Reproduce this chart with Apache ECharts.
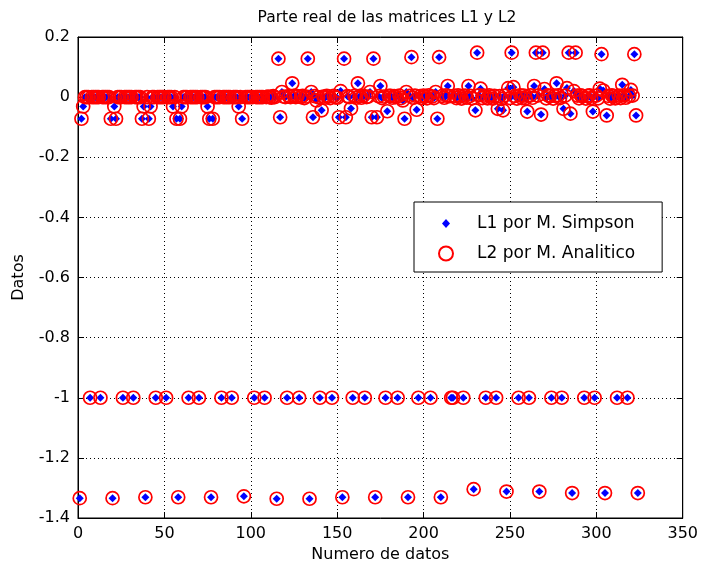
<!DOCTYPE html>
<html>
<head>
<meta charset="utf-8">
<script src="https://cdn.jsdelivr.net/npm/echarts@6/dist/echarts.min.js"></script>
<style>
html,body{margin:0;padding:0;background:#fff;}
#chart{width:701px;height:569px;}
</style>
</head>
<body>
<div id="chart"></div>
<script>
// Real part of the 18x18 matrices, column by column
const col1  = [-1.334,-0.072,-0.031,0,0,0,-1,0,0,0,0,0,-1,0,0,0,0,0];
const col2  = [-0.072,-1.334,-0.031,-0.072,0,0,0,-1,0,0,0,0,0,-1,0,0,0,0];
const col3  = [-0.072,-0.031,-1.331,0,-0.072,-0.031,0,0,-1,0,0,0,0,0,-1,0,0,0];
const col4  = [-0.031,0,-0.072,-1.331,-0.072,-0.031,0,0,0,-1,0,0,0,0,0,-1,0,0];
const col5  = [0,0,-0.031,-0.072,-1.331,-0.072,0,0,0,0,-1,0,0,0,0,0,-1,0];
const col6  = [0,0,-0.031,0,-0.072,-1.328,0,0,0,0,0,-1,0,0,0,0,0,-1];
const col7  = [0,0.002,0,-0.002,0.003,0,-1.336,0.128,-0.067,0.017,0.002,0,-1,0.003,0,0.046,0.004,0];
const col8  = [0.003,-1,0,0.004,-0.003,0.002,0.128,-1.336,0.017,-0.067,0.003,-0.011,0,-1,-0.044,0.002,-0.002,0.004];
const col9  = [0.002,-0.003,-1,0.004,0,-0.002,-0.067,0.02,-1.331,0.128,-0.067,0.003,0,-0.038,-1,0.004,-0.002,0.046];
const col10 = [0.003,-0.002,0.004,-1,0,0.002,0.017,-0.067,0.128,-1.331,-0.067,0.003,0.037,-0.003,0.002,-1,-0.047,0.004];
const col11 = [0.004,-0.002,0.003,0,-1,0.005,-0.003,-0.011,-0.072,0.017,-1.331,0.004,0.133,-0.002,0.005,-0.042,-1,0.003];
const col12 = [-0.003,0.005,0.002,-0.004,0.006,-1,0.002,-0.003,0.017,-0.072,0.133,-1.331,0.004,-0.002,0.006,0.037,0.003,-1];
const col13 = [-1,0.004,-0.003,0.006,0.002,-0.005,-1,0.005,-0.002,0.037,0.004,-0.004,-1.304,-0.044,0.148,0.006,0.028,-0.003];
const col14 = [0.005,-1,-0.004,0.006,0.002,-0.005,0.004,-1,-0.039,0.003,-0.006,-0.044,0.005,-1.312,0.03,-0.003,0.148,0.033];
const col15 = [0.004,-0.005,-1,0.006,-0.003,0.005,-0.004,-0.048,-1,0.006,-0.002,0.037,0.148,0.005,-1.312,-0.058,0.148,0.027];
const col16 = [-0.004,0.006,0.003,-1,-0.005,0.004,0.046,0.006,-0.003,-1,-0.039,0.005,0.03,0.148,-0.055,-1.317,0.02,0.148];
const col17 = [0.005,-0.004,0.006,0.003,-1,-0.005,0.004,0.006,-0.003,-0.048,-1,0.005,-0.004,0.028,0.143,0.022,-1.317,-0.061];
const col18 = [0.004,-0.005,0.006,0.003,-0.004,-1,0.005,-0.003,0.041,0.006,-0.002,-1,0.004,0.024,0.005,0.143,-0.061,-1.317];

const l1Values = [].concat(col1,col2,col3,col4,col5,col6,col7,col8,col9,col10,col11,col12,col13,col14,col15,col16,col17,col18);
const l2Values = [].concat(col1,col2,col3,col4,col5,col6,col7,col8,col9,col10,col11,col12,col13,col14,col15,col16,col17,col18);

const seriesNames = ['L1 por M. Simpson', 'L2 por M. Analitico'];
const xTicks = [0, 50, 100, 150, 200, 250, 300, 350];
const yTicks = [-1.4, -1.2, -1, -0.8, -0.6, -0.4, -0.2, 0, 0.2];
const titleText = 'Parte real de las matrices L1 y L2';
const xName = 'Numero de datos';
const yName = 'Datos';

const FONT = '"DejaVu Sans", "Liberation Sans", Arial, sans-serif';
const FS = 16;
const l1Data = l1Values.map((v, i) => [i + 1, v]);
const l2Data = l2Values.map((v, i) => [i + 1, v]);

const chart = echarts.init(document.getElementById('chart'), null, {renderer: 'canvas'});
const fmtY = v => String(+v.toFixed(1));
const baseX = {
  type: 'value', min: xTicks[0], max: xTicks[xTicks.length - 1], interval: 50
};
const baseY = {
  type: 'value', min: yTicks[0], max: yTicks[yTicks.length - 1], interval: 0.2
};
const tick = {show: true, inside: true, length: 6, lineStyle: {color: '#000', width: 1}};
const dotted = {show: true, lineStyle: {color: '#000', type: [1, 3], width: 1}};
chart.setOption({
  animation: false,
  backgroundColor: '#fff',
  title: {
    text: titleText, left: 382, textAlign: 'center', top: 5,
    textStyle: {fontFamily: FONT, fontSize: 15.5, fontWeight: 'normal', color: '#000'}
  },
  grid: {left: 78, right: 15, top: 37, bottom: 51, show: true, borderColor: '#000', borderWidth: 1, backgroundColor: '#fff'},
  legend: {
    orient: 'vertical', left: 414, top: 202,
    padding: [13, 27, 10, 24], itemWidth: 14, itemHeight: 14, itemGap: 13,
    backgroundColor: '#fff', borderColor: '#000', borderWidth: 1,
    textStyle: {fontFamily: FONT, fontSize: 17, color: '#000', padding: [0, 0, 0, 19]},
    data: [
      {name: seriesNames[0], icon: 'path://M0,0M14,14M7,2.5L11,7L7,11.5L3,7Z'},
      {name: seriesNames[1]}
    ]
  },
  xAxis: [
    Object.assign({}, baseX, {
      position: 'bottom',
      name: xName, nameLocation: 'middle', nameGap: 28,
      nameTextStyle: {fontFamily: FONT, fontSize: FS, color: '#000'},
      axisLine: {show: true, onZero: false, lineStyle: {color: '#000', width: 1}},
      axisTick: tick,
      axisLabel: {fontFamily: FONT, fontSize: FS, color: '#000', margin: 8},
      splitLine: dotted
    }),
    Object.assign({}, baseX, {
      position: 'top',
      axisLine: {show: true, onZero: false, lineStyle: {color: '#000'}},
      axisTick: tick,
      axisLabel: {show: false}, splitLine: {show: false}
    })
  ],
  yAxis: [
    Object.assign({}, baseY, {
      position: 'left',
      name: yName, nameLocation: 'middle', nameGap: 51, nameRotate: 90,
      nameTextStyle: {fontFamily: FONT, fontSize: FS, color: '#000'},
      axisLine: {show: true, onZero: false, lineStyle: {color: '#000', width: 1}},
      axisTick: tick,
      axisLabel: {fontFamily: FONT, fontSize: FS, color: '#000', margin: 8, formatter: fmtY},
      splitLine: dotted
    }),
    Object.assign({}, baseY, {
      position: 'right',
      axisLine: {show: true, onZero: false, lineStyle: {color: '#000'}},
      axisTick: tick,
      axisLabel: {show: false}, splitLine: {show: false}
    })
  ],
  series: [
    {
      name: seriesNames[0], type: 'scatter', xAxisIndex: 0, yAxisIndex: 0,
      symbol: 'diamond', symbolSize: 8, z: 2,
      itemStyle: {color: '#0000ff', opacity: 1},
      data: l1Data
    },
    {
      name: seriesNames[1], type: 'scatter', xAxisIndex: 0, yAxisIndex: 0,
      symbol: 'circle', symbolSize: 13, z: 3,
      itemStyle: {color: 'rgba(255,255,255,0)', borderColor: '#ff0000', borderWidth: 1.7, opacity: 1},
      data: l2Data
    }
  ]
});
</script>
</body>
</html>
